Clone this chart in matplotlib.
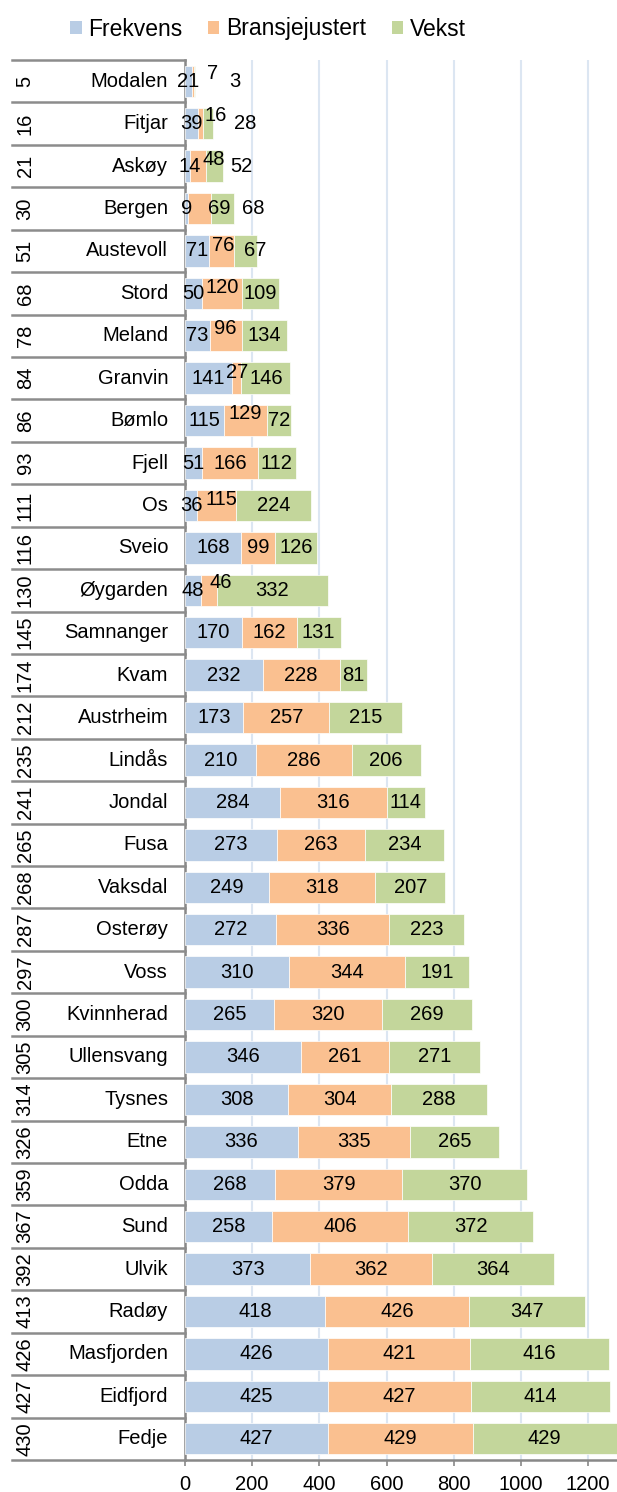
import matplotlib
matplotlib.use("Agg")
import matplotlib.pyplot as plt
from matplotlib import font_manager
from matplotlib.transforms import blended_transform_factory
from matplotlib.patches import Patch

# reference glyphs are taller than Arial proportions -> narrow face if present
try:
    font_manager.findfont("Liberation Sans Narrow", fallback_to_default=False)
    FAMILY = ["Liberation Sans Narrow", "DejaVu Sans"]
    FS, LEG_FS = 17, 19
except ValueError:
    FAMILY = ["Liberation Sans", "DejaVu Sans"]
    FS, LEG_FS = 14.5, 16.5
plt.rcParams["font.family"] = FAMILY

# rank, kommune, and the three score components
RANKS = [5, 16, 21, 30, 51, 68, 78, 84, 86, 93, 111, 116, 130, 145, 174, 212,
         235, 241, 265, 268, 287, 297, 300, 305, 314, 326, 359, 367, 392, 413,
         426, 427, 430]
NAMES = ["Modalen", "Fitjar", "Askøy", "Bergen", "Austevoll", "Stord", "Meland",
         "Granvin", "Bømlo", "Fjell", "Os", "Sveio", "Øygarden", "Samnanger",
         "Kvam", "Austrheim", "Lindås", "Jondal", "Fusa", "Vaksdal", "Osterøy",
         "Voss", "Kvinnherad", "Ullensvang", "Tysnes", "Etne", "Odda", "Sund",
         "Ulvik", "Radøy", "Masfjorden", "Eidfjord", "Fedje"]
FREKVENS = [21, 39, 14, 9, 71, 50, 73, 141, 115, 51, 36, 168, 48, 170, 232, 173,
            210, 284, 273, 249, 272, 310, 265, 346, 308, 336, 268, 258, 373, 418,
            426, 425, 427]
BRANSJE = [7, 16, 48, 69, 76, 120, 96, 27, 129, 166, 115, 99, 46, 162, 228, 257,
           286, 316, 263, 318, 336, 344, 320, 261, 304, 335, 379, 406, 362, 426,
           421, 427, 429]
VEKST = [3, 28, 52, 68, 67, 109, 134, 146, 72, 112, 224, 126, 332, 131, 81, 215,
         206, 114, 234, 207, 223, 191, 269, 271, 288, 265, 370, 372, 364, 347,
         416, 414, 429]

SERIES = ["Frekvens", "Bransjejustert", "Vekst"]
COLORS = ["#B9CDE5", "#FAC090", "#C3D69B"]

# Excel-style nudges for labels that would collide (pixels: dx, dy up)
NUDGE = {
    (0, 1): (19, 8), (0, 2): (40, 0),
    (1, 1): (15, 8), (1, 2): (37, 0),
    (2, 0): (2, 0), (2, 1): (16, 7), (2, 2): (27, 0),
    (3, 1): (20, 0), (3, 2): (31, 0),
    (4, 1): (2, 5), (4, 2): (10, 0),
    (5, 1): (0, 6), (6, 1): (0, 7), (7, 1): (0, 6), (8, 1): (0, 7),
    (10, 1): (5, 6), (12, 1): (12, 8),
}

W, H = 617, 1492
fig = plt.figure(figsize=(W / 100, H / 100), dpi=100)
ax = fig.add_axes([185 / W, 32 / H, 432 / W, 1400 / H])

n = len(NAMES)
ys = list(range(n))
left = [0] * n
for s, (vals, col) in enumerate(zip([FREKVENS, BRANSJE, VEKST], COLORS)):
    ax.barh(ys, vals, left=left, height=0.74, color=col, edgecolor="white",
            linewidth=0.5, zorder=3)
    for i, v in enumerate(vals):
        dx, dy = NUDGE.get((i, s), (0, 0))
        ax.annotate(str(v), (left[i] + v / 2, i), xytext=(dx, dy),
                    textcoords="offset pixels", ha="center", va="center",
                    fontsize=FS, color="black", zorder=5)
    left = [a + b for a, b in zip(left, vals)]

ax.set_ylim(n - 0.5, -0.5)
ax.set_xlim(0, 1286)
ax.set_xticks(range(0, 1201, 200))
ax.set_yticks([])
ax.tick_params(axis="x", direction="out", length=4, width=1.2, color="#888888",
               labelsize=FS, pad=7)
ax.grid(axis="x", color="#DCE6F2", linewidth=1.5, zorder=0)
for side in ["top", "right"]:
    ax.spines[side].set_visible(False)
for side in ["left", "bottom"]:
    ax.spines[side].set_color("#888888")
    ax.spines[side].set_linewidth(1.8)

# left-hand table: rank + name
tr = blended_transform_factory(ax.transAxes, ax.transData)
for i, (r, nm) in enumerate(zip(RANKS, NAMES)):
    ax.text(-0.370, i, str(r), transform=tr, rotation=90, ha="center",
            va="center", fontsize=FS)
    ax.text(-0.039, i, nm, transform=tr, ha="right", va="center", fontsize=FS)
for b in range(n + 1):
    ax.plot([-0.40, 0], [b - 0.5, b - 0.5], transform=tr, color="#8C8C8C",
            linewidth=1.8, clip_on=False, zorder=4)

handles = [Patch(facecolor=c, edgecolor="none") for c in COLORS]
fig.legend(handles, SERIES, loc="center", bbox_to_anchor=(268 / W, 1 - 29 / H),
           ncol=3, frameon=False, fontsize=LEG_FS, handlelength=0.5,
           handleheight=0.5, handletextpad=0.3, columnspacing=1.1)

fig.savefig("out.png", dpi=100)
